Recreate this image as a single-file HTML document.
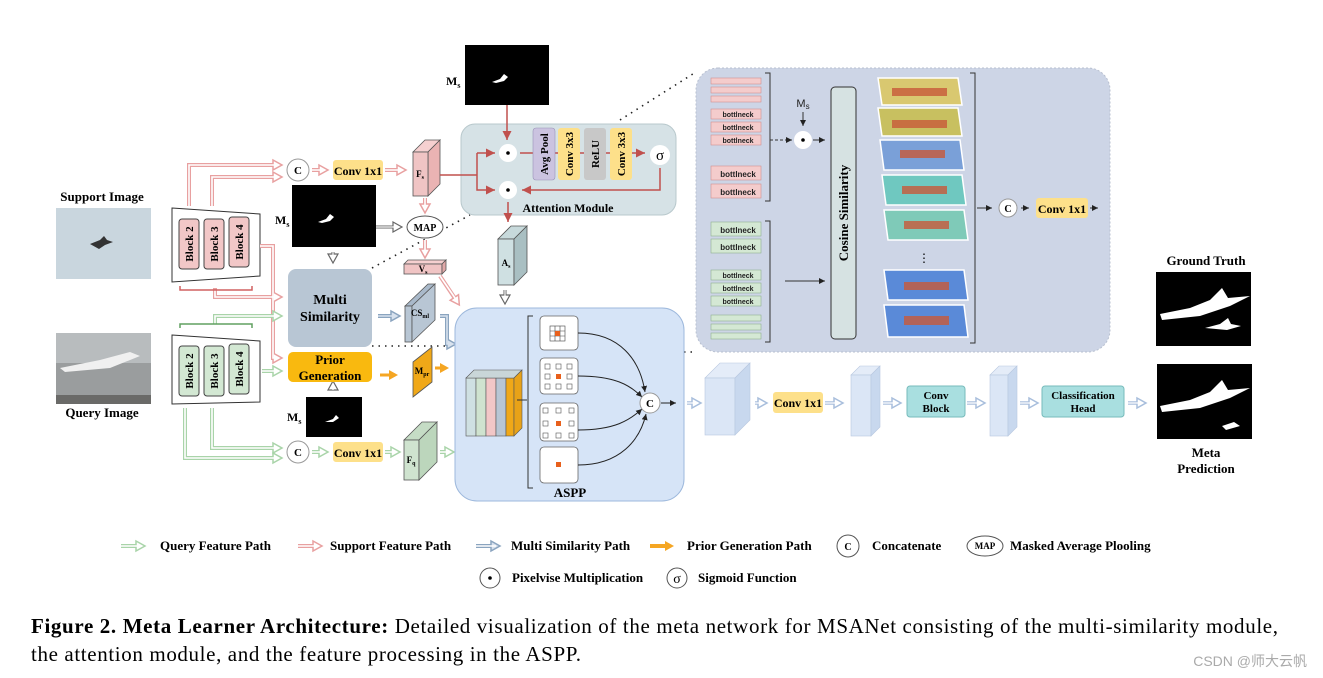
<!DOCTYPE html>
<html><head><meta charset="utf-8"><style>
html,body{margin:0;padding:0;background:#fff;}
svg{display:block;font-family:"Liberation Serif",serif;}
.b{font-weight:bold;}
</style></head><body>
<svg width="1323" height="678" viewBox="0 0 1323 678" xmlns="http://www.w3.org/2000/svg">
<defs>
<marker id="ar" markerWidth="8" markerHeight="8" refX="6" refY="3" orient="auto"><path d="M0,0 L6,3 L0,6 Z" fill="#c0504d"/></marker>
<marker id="ak" markerWidth="8" markerHeight="8" refX="6" refY="3" orient="auto"><path d="M0,0 L6,3 L0,6 Z" fill="#222"/></marker>
<marker id="hp" markerUnits="userSpaceOnUse" markerWidth="14" markerHeight="14" refX="4" refY="7" orient="auto"><path d="M1,2 L10,7 L1,12 Z" fill="#fff" stroke="#e8a0a0" stroke-width="1.5"/></marker>
<marker id="hg" markerUnits="userSpaceOnUse" markerWidth="14" markerHeight="14" refX="4" refY="7" orient="auto"><path d="M1,2 L10,7 L1,12 Z" fill="#fff" stroke="#a9d4a9" stroke-width="1.5"/></marker>
<marker id="hb" markerUnits="userSpaceOnUse" markerWidth="14" markerHeight="14" refX="4" refY="7" orient="auto"><path d="M1,2 L10,7 L1,12 Z" fill="#d8e2ee" stroke="#8aa4bf" stroke-width="1.5"/></marker>
<marker id="hl" markerUnits="userSpaceOnUse" markerWidth="14" markerHeight="14" refX="4" refY="7" orient="auto"><path d="M1,2 L10,7 L1,12 Z" fill="#fff" stroke="#a8bedc" stroke-width="1.5"/></marker>
<marker id="hk" markerUnits="userSpaceOnUse" markerWidth="14" markerHeight="14" refX="4" refY="7" orient="auto"><path d="M1,2 L10,7 L1,12 Z" fill="#fff" stroke="#666" stroke-width="1.2"/></marker>
<marker id="ho" markerUnits="userSpaceOnUse" markerWidth="14" markerHeight="14" refX="4" refY="7" orient="auto"><path d="M1,2 L10,7 L1,12 Z" fill="#f5a623"/></marker>
</defs>

<rect x="696" y="68" width="414" height="284" rx="22" fill="#cdd5e6" stroke="#b8c0d0" stroke-dasharray="2,2"/>
<path d="M372,268 L470,215 M620,120 L696,72 M372,346 L455,346 M684,352 L696,352" stroke="#222" stroke-width="1.6" stroke-dasharray="1.5,5" fill="none"/>

<text x="102" y="201" font-size="13" class="b" text-anchor="middle">Support Image</text>
<rect x="56" y="208" width="95" height="71" fill="#c9d6de"/>
<path d="M90,244 l10,-4 4,-4 3,4 6,2 -8,3 -6,4z" fill="#333"/>
<rect x="56" y="333" width="95" height="71" fill="#9a9d9e"/>
<rect x="56" y="333" width="95" height="30" fill="#b8bcbe"/>
<path d="M60,368 l40,-8 30,-8 10,4 -30,12 -45,4z" fill="#f0f0f0"/>
<rect x="56" y="395" width="95" height="9" fill="#6a6a68"/>
<text x="102" y="417" font-size="13" class="b" text-anchor="middle">Query Image</text>

<polygon points="172,208 260,214 260,276 172,282" fill="#fff" stroke="#333"/>
<g fill="#f2c7c7" stroke="#444"><rect x="179" y="219" width="20" height="50" rx="3"/><rect x="204" y="219" width="20" height="50" rx="3"/><rect x="229" y="217" width="20" height="50" rx="3"/></g>
<g font-size="11" class="b" text-anchor="middle"><text transform="translate(193,244) rotate(-90)">Block 2</text><text transform="translate(218,244) rotate(-90)">Block 3</text><text transform="translate(243,242) rotate(-90)">Block 4</text></g>
<polygon points="172,335 260,341 260,402 172,404" fill="#fff" stroke="#333"/>
<g fill="#d3e8d3" stroke="#444"><rect x="179" y="346" width="20" height="50" rx="3"/><rect x="204" y="346" width="20" height="50" rx="3"/><rect x="229" y="344" width="20" height="50" rx="3"/></g>
<g font-size="11" class="b" text-anchor="middle"><text transform="translate(193,371) rotate(-90)">Block 2</text><text transform="translate(218,371) rotate(-90)">Block 3</text><text transform="translate(243,369) rotate(-90)">Block 4</text></g>

<!-- pink paths -->
<g fill="none" stroke="#e8a0a0" stroke-width="4" marker-end="url(#hp)">
<path d="M189,206 V165 H276"/><path d="M212,206 V177 H276"/><path d="M260,246 H273 V358 H276"/><path d="M215,288 V297 H276"/>
<path d="M312,170 H322"/><path d="M385,170 H400"/><path d="M425,198 V207"/><path d="M425,240 V252"/><path d="M440,276 L456,300"/>
</g>
<g fill="none" stroke="#fff" stroke-width="1.6">
<path d="M189,206 V165 H278 M212,206 V177 H278 M260,246 H273 V358 H278 M215,290 V297 H278 M312,170 H324 M385,170 H402 M425,198 V209 M425,240 V254 M440,276 L457,301"/>
</g>
<path d="M180,286 v4 h72 v-4" stroke="#d06060" stroke-width="1.5" fill="none"/>
<!-- green paths -->
<g fill="none" stroke="#a9d4a9" stroke-width="4" marker-end="url(#hg)">
<path d="M215,324 V316 H276"/><path d="M262,371 H276"/><path d="M185,408 V458 H276"/><path d="M212,408 V448 H276"/>
<path d="M312,452 H322"/><path d="M385,452 H394"/><path d="M440,452 H448"/>
</g>
<g fill="none" stroke="#fff" stroke-width="1.6">
<path d="M215,324 V316 H278 M262,371 H278 M185,408 V458 H278 M212,408 V448 H278 M312,452 H324 M385,452 H396 M440,452 H450"/>
</g>
<path d="M180,328 v-4 h72 v4" stroke="#60a060" stroke-width="1.5" fill="none"/>
<g stroke="#8aa4bf" stroke-width="4" fill="none" marker-end="url(#hb)"><path d="M378,316 H394"/><path d="M440,316 h7 v28 h3"/></g>
<path d="M378,316 H396 M440,316 h7 v28 h5" stroke="#d8e2ee" stroke-width="1.6" fill="none"/>
<g stroke="#f5a623" stroke-width="3" fill="none" marker-end="url(#ho)"><path d="M380,375 H392"/><path d="M435,368 H443"/></g>
<g stroke="#666" stroke-width="3" fill="none" marker-end="url(#hk)"><path d="M376,227 H396"/><path d="M333,252 v5"/><path d="M333,390 v-3"/><path d="M505,290 v8"/></g>
<path d="M376,227 H398 M333,252 v7 M333,390 v-5 M505,290 v10" stroke="#fff" stroke-width="1.2" fill="none"/>

<circle cx="298" cy="170" r="11" fill="#fff" stroke="#999"/><text x="298" y="174" font-size="11" class="b" text-anchor="middle">C</text>
<circle cx="298" cy="452" r="11" fill="#fff" stroke="#999"/><text x="298" y="456" font-size="11" class="b" text-anchor="middle">C</text>
<rect x="333" y="160" width="50" height="20" rx="3" fill="#fde08a"/><text x="358" y="175" font-size="12" class="b" text-anchor="middle">Conv 1x1</text>
<rect x="333" y="442" width="50" height="20" rx="3" fill="#fde08a"/><text x="358" y="457" font-size="12" class="b" text-anchor="middle">Conv 1x1</text>

<text x="275" y="224" font-size="12" class="b">M<tspan font-size="8" dy="3">s</tspan></text>
<rect x="292" y="185" width="84" height="62" fill="#000"/><path d="M318,222 l8,-3 4,-5 4,3 -4,4 -8,2z" fill="#fff"/>
<text x="287" y="421" font-size="12" class="b">M<tspan font-size="8" dy="3">s</tspan></text>
<rect x="306" y="397" width="56" height="40" fill="#000"/><path d="M325,422 l8,-3 3,-4 3,3 -6,4z" fill="#fff"/>
<text x="446" y="85" font-size="12" class="b">M<tspan font-size="8" dy="3">s</tspan></text>
<rect x="465" y="45" width="84" height="60" fill="#000"/><path d="M492,82 l8,-3 4,-5 4,3 -4,4 -8,2z" fill="#fff"/>

<ellipse cx="425" cy="227" rx="18" ry="11" fill="#fff" stroke="#555"/><text x="425" y="231" font-size="10" class="b" text-anchor="middle">MAP</text>

<rect x="288" y="269" width="84" height="78" rx="8" fill="#b8c6d4"/>
<text x="330" y="304" font-size="14" class="b" text-anchor="middle">Multi</text><text x="330" y="321" font-size="14" class="b" text-anchor="middle">Similarity</text>
<rect x="288" y="352" width="84" height="30" rx="5" fill="#f9b90f"/>
<text x="330" y="364" font-size="13" class="b" text-anchor="middle">Prior</text><text x="330" y="380" font-size="13" class="b" text-anchor="middle">Generation</text>

<g stroke="#555" stroke-width="0.8">
<polygon points="413,152 425,140 440,140 428,152" fill="#f6d0d0"/><polygon points="428,152 440,140 440,184 428,196" fill="#eab3b3"/><rect x="413" y="152" width="15" height="44" fill="#f0c4c4"/>
<polygon points="404,264 408,260 446,260 442,264" fill="#f6d0d0"/><rect x="404" y="264" width="38" height="10" fill="#f0c4c4"/><polygon points="442,264 446,260 446,270 442,274" fill="#e0a8a8"/>
<polygon points="405,306 428,284 435,284 412,306" fill="#a9b9ca"/><rect x="405" y="306" width="7" height="36" fill="#b8c6d4"/><polygon points="412,306 435,284 435,320 412,342" fill="#b8c6d4"/>
<polygon points="413,362 432,347 432,382 413,397" fill="#f0a818"/>
<polygon points="404,440 422,422 437,422 419,440" fill="#c5dcc5"/><rect x="404" y="440" width="15" height="40" fill="#cfe3cf"/><polygon points="419,440 437,422 437,462 419,480" fill="#bcd6bc"/>
<polygon points="498,239 511,226 527,226 514,239" fill="#c7d9db"/><rect x="498" y="239" width="16" height="46" fill="#cfe0e2"/><polygon points="514,239 527,226 527,272 514,285" fill="#a9bfc2"/>
</g>
<g font-size="9" class="b" text-anchor="middle">
<text x="420" y="177">F<tspan font-size="6" dy="2">s</tspan></text>
<text x="423" y="272">V<tspan font-size="6" dy="2">s</tspan></text>
<text x="420" y="316">CS<tspan font-size="6" dy="2">ml</tspan></text>
<text x="422" y="374">M<tspan font-size="6" dy="2">pr</tspan></text>
<text x="411" y="463">F<tspan font-size="6" dy="2">q</tspan></text>
<text x="506" y="266">A<tspan font-size="6" dy="2">s</tspan></text>
</g>

<rect x="461" y="124" width="215" height="91" rx="14" fill="#d6e2e6" stroke="#b8c8cc"/>
<g stroke="#c0504d" stroke-width="1.5" fill="none">
<path d="M440,175 H477 M477,153 V190 H495" marker-end="url(#ar)"/>
<path d="M477,153 H495" marker-end="url(#ar)"/>
<path d="M507,105 V140" marker-end="url(#ar)"/>
<path d="M520,153 H645" marker-end="url(#ar)"/>
<path d="M660,168 V190 H522" marker-end="url(#ar)"/>
<path d="M508,202 V222" marker-end="url(#ar)"/>
</g>
<rect x="533" y="128" width="22" height="52" rx="3" fill="#cbc3e0" stroke="#9a92b8" stroke-width="0.6"/>
<rect x="558" y="128" width="22" height="52" rx="3" fill="#fde08a"/>
<rect x="584" y="128" width="22" height="52" rx="3" fill="#c8c8c8"/>
<rect x="610" y="128" width="22" height="52" rx="3" fill="#fde08a"/>
<g font-size="11" class="b" text-anchor="middle">
<text transform="translate(548,154) rotate(-90)">Avg Pool</text>
<text transform="translate(573,154) rotate(-90)">Conv 3x3</text>
<text transform="translate(599,154) rotate(-90)">ReLU</text>
<text transform="translate(625,154) rotate(-90)">Conv 3x3</text>
</g>
<circle cx="508" cy="153" r="9" fill="#fff"/><circle cx="508" cy="153" r="1.8" fill="#000"/>
<circle cx="508" cy="190" r="9" fill="#fff"/><circle cx="508" cy="190" r="1.8" fill="#000"/>
<circle cx="660" cy="155" r="10" fill="#fff"/><text x="660" y="160" font-size="15" text-anchor="middle">σ</text>
<text x="568" y="212" font-size="12" class="b" text-anchor="middle">Attention Module</text>

<rect x="455" y="308" width="229" height="193" rx="22" fill="#d6e4f7" stroke="#9db8dc"/>
<g stroke="#555" stroke-width="0.6">
<rect x="466" y="378" width="10" height="58" fill="#cfe0e2"/><rect x="476" y="378" width="10" height="58" fill="#cfe3cf"/><rect x="486" y="378" width="10" height="58" fill="#f2c7c7"/><rect x="496" y="378" width="10" height="58" fill="#b8c6d4"/><rect x="506" y="378" width="8" height="58" fill="#f0a818"/>
<polygon points="466,378 474,370 522,370 514,378" fill="#c9d6d8"/><polygon points="514,378 522,370 522,428 514,436" fill="#e8a218"/>
</g>
<path d="M517,400 h10 M533,316 h-5 v172 h5" stroke="#333" fill="none"/>
<g fill="#fff" stroke="#666" stroke-width="0.8">
<rect x="540" y="316" width="38" height="34" rx="4"/><rect x="540" y="358" width="38" height="36" rx="4"/><rect x="540" y="403" width="38" height="38" rx="4"/><rect x="540" y="447" width="38" height="36" rx="4"/>
</g>
<g stroke="#444" stroke-width="0.6" fill="none"><rect x="550" y="326" width="15" height="15"/><path d="M555,326v15M560,326v15M550,331h15M550,336h15"/></g>
<rect x="555" y="331" width="5" height="5" fill="#e8601c"/>
<g fill="#fff" stroke="#555" stroke-width="0.6">
<rect x="545" y="364" width="5" height="5"/><rect x="556" y="364" width="5" height="5"/><rect x="567" y="364" width="5" height="5"/><rect x="545" y="374" width="5" height="5"/><rect x="567" y="374" width="5" height="5"/><rect x="545" y="384" width="5" height="5"/><rect x="556" y="384" width="5" height="5"/><rect x="567" y="384" width="5" height="5"/>
<rect x="543" y="408" width="5" height="5"/><rect x="556" y="408" width="5" height="5"/><rect x="569" y="408" width="5" height="5"/><rect x="543" y="421" width="5" height="5"/><rect x="569" y="421" width="5" height="5"/><rect x="543" y="433" width="5" height="5"/><rect x="556" y="433" width="5" height="5"/><rect x="569" y="433" width="5" height="5"/>
</g>
<g fill="#e8601c"><rect x="556" y="374" width="5" height="5"/><rect x="556" y="421" width="5" height="5"/><rect x="556" y="462" width="5" height="5"/></g>
<g stroke="#222" stroke-width="1" fill="none">
<path d="M578,333 C620,333 640,360 645,392" marker-end="url(#ak)"/>
<path d="M578,376 C615,376 630,385 642,397" marker-end="url(#ak)"/>
<path d="M578,430 C615,430 630,420 642,409" marker-end="url(#ak)"/>
<path d="M578,465 C620,465 640,440 646,414" marker-end="url(#ak)"/>
<path d="M661,403 H676" marker-end="url(#ak)"/>
</g>
<circle cx="650" cy="403" r="10" fill="#fff" stroke="#999"/><text x="650" y="407" font-size="11" class="b" text-anchor="middle">C</text>
<text x="570" y="497" font-size="13" class="b" text-anchor="middle">ASPP</text>

<g stroke="#d09090" stroke-width="0.6" fill="#f4cccc">
<rect x="711" y="78" width="50" height="6"/><rect x="711" y="87" width="50" height="6"/><rect x="711" y="96" width="50" height="6"/>
<rect x="711" y="109" width="50" height="10"/><rect x="711" y="122" width="50" height="10"/><rect x="711" y="135" width="50" height="10"/>
<rect x="711" y="166" width="50" height="14"/><rect x="711" y="184" width="50" height="14"/>
</g>
<g stroke="#90b090" stroke-width="0.6" fill="#d4e8d4">
<rect x="711" y="222" width="50" height="14"/><rect x="711" y="239" width="50" height="14"/>
<rect x="711" y="270" width="50" height="10"/><rect x="711" y="283" width="50" height="10"/><rect x="711" y="296" width="50" height="10"/>
<rect x="711" y="315" width="50" height="6"/><rect x="711" y="324" width="50" height="6"/><rect x="711" y="333" width="50" height="6"/>
</g>
<g font-family="Liberation Sans, sans-serif" font-weight="bold" text-anchor="middle" fill="#222">
<text x="738" y="117" font-size="7">bottlneck</text><text x="738" y="130" font-size="7">bottlneck</text><text x="738" y="143" font-size="7">bottlneck</text>
<text x="738" y="177" font-size="8">bottlneck</text><text x="738" y="195" font-size="8">bottlneck</text>
<text x="738" y="233" font-size="8">bottlneck</text><text x="738" y="250" font-size="8">bottlneck</text>
<text x="738" y="278" font-size="7">bottlneck</text><text x="738" y="291" font-size="7">bottlneck</text><text x="738" y="304" font-size="7">bottlneck</text>
<text x="803" y="107" font-size="11" font-weight="normal">M<tspan font-size="8" dy="2">s</tspan></text>
</g>
<g stroke="#333" fill="none" stroke-width="1">
<path d="M765,73 h5 v128 h-5 M765,221 h5 v121 h-5 M970,73 h5 v270 h-5"/>
<path d="M770,140 h22" stroke-dasharray="3,2" marker-end="url(#ak)"/>
<path d="M803,112 v14" marker-end="url(#ak)"/>
<path d="M813,140 h12" marker-end="url(#ak)"/>
<path d="M785,281 h40" marker-end="url(#ak)"/>
<path d="M977,208 h15" marker-end="url(#ak)"/>
<path d="M1021,208 h8" marker-end="url(#ak)"/>
<path d="M1090,208 h8" marker-end="url(#ak)"/>
</g>
<circle cx="803" cy="140" r="9" fill="#fff"/><circle cx="803" cy="140" r="1.8" fill="#000"/>
<rect x="831" y="87" width="25" height="252" rx="4" fill="#d6e2e2" stroke="#333"/>
<text transform="translate(848,213) rotate(-90)" font-size="13" class="b" text-anchor="middle">Cosine Similarity</text>
<g stroke="#fff" stroke-width="1.5">
<polygon points="878,78 958,78 962,105 882,105" fill="#d9c870"/>
<polygon points="878,108 958,108 962,136 882,136" fill="#c8c060"/>
<polygon points="880,140 960,140 964,170 884,170" fill="#7aa0d8"/>
<polygon points="882,175 962,175 966,205 886,205" fill="#6fc8c0"/>
<polygon points="884,210 964,210 968,240 888,240" fill="#7fcab8"/>
<polygon points="884,270 964,270 968,300 888,300" fill="#5a8ad8"/>
<polygon points="884,305 964,305 968,337 888,337" fill="#5a8ad8"/>
</g>
<g fill="#c85a3a" opacity="0.8"><rect x="892" y="88" width="55" height="8"/><rect x="892" y="120" width="55" height="8"/><rect x="900" y="150" width="45" height="8"/><rect x="902" y="186" width="45" height="8"/><rect x="904" y="221" width="45" height="8"/><rect x="904" y="282" width="45" height="8"/><rect x="904" y="316" width="45" height="9"/></g>
<text x="924" y="262" font-size="12" text-anchor="middle">⋮</text>
<circle cx="1008" cy="208" r="9" fill="#fff" stroke="#999"/><text x="1008" y="212" font-size="10" class="b" text-anchor="middle">C</text>
<rect x="1036" y="198" width="52" height="20" rx="3" fill="#fde08a"/><text x="1062" y="213" font-size="12" class="b" text-anchor="middle">Conv 1x1</text>

<g stroke="#a8bedc" stroke-width="3.5" fill="none" marker-end="url(#hl)"><path d="M687,403 h8"/><path d="M755,403 h6"/><path d="M825,403 h12"/><path d="M883,403 h12"/><path d="M967,403 h12"/><path d="M1020,403 h12"/><path d="M1128,403 h12"/></g>
<g stroke="#fff" stroke-width="1.2" fill="none"><path d="M687,403 h10 M755,403 h8 M825,403 h14 M883,403 h14 M967,403 h14 M1020,403 h14 M1128,403 h14"/></g>
<g stroke="#b8c8e0" stroke-width="0.6">
<polygon points="705,378 720,363 750,363 735,378" fill="#e4ecf8"/><rect x="705" y="378" width="30" height="57" fill="#dbe6f6"/><polygon points="735,378 750,363 750,420 735,435" fill="#c8d8ee"/>
<polygon points="851,375 860,366 880,366 871,375" fill="#e4ecf8"/><rect x="851" y="375" width="20" height="61" fill="#dbe6f6"/><polygon points="871,375 880,366 880,427 871,436" fill="#c8d8ee"/>
<polygon points="990,375 999,366 1017,366 1008,375" fill="#e4ecf8"/><rect x="990" y="375" width="18" height="61" fill="#dbe6f6"/><polygon points="1008,375 1017,366 1017,427 1008,436" fill="#c8d8ee"/>
</g>
<rect x="773" y="392" width="50" height="21" rx="3" fill="#fde08a"/><text x="798" y="407" font-size="12" class="b" text-anchor="middle">Conv 1x1</text>
<rect x="907" y="386" width="58" height="31" rx="3" fill="#a9dfe0" stroke="#7bb"/><text x="936" y="399" font-size="11" class="b" text-anchor="middle">Conv</text><text x="936" y="412" font-size="11" class="b" text-anchor="middle">Block</text>
<rect x="1042" y="386" width="82" height="31" rx="3" fill="#a9dfe0" stroke="#7bb"/><text x="1083" y="399" font-size="11" class="b" text-anchor="middle">Classification</text><text x="1083" y="412" font-size="11" class="b" text-anchor="middle">Head</text>

<text x="1206" y="265" font-size="13" class="b" text-anchor="middle">Ground Truth</text>
<rect x="1156" y="272" width="95" height="74" fill="#000"/>
<path d="M1160,314 l30,-6 20,-8 12,-12 6,10 22,-2 -20,10 -30,10 -38,4z M1205,328 l15,-4 8,-6 3,6 10,2 -14,4z" fill="#fff"/>
<rect x="1157" y="364" width="95" height="75" fill="#000"/>
<path d="M1160,406 l30,-6 20,-8 12,-12 6,10 22,-2 -20,10 -30,10 -38,4z M1222,426 l12,-4 6,4 -14,4z" fill="#fff"/>
<text x="1206" y="457" font-size="13" class="b" text-anchor="middle">Meta</text>
<text x="1206" y="473" font-size="13" class="b" text-anchor="middle">Prediction</text>

<g stroke-width="4" fill="none">
<path d="M121,546 h18" stroke="#a9d4a9" marker-end="url(#hg)"/><path d="M298,546 h18" stroke="#e8a0a0" marker-end="url(#hp)"/><path d="M476,546 h18" stroke="#8aa4bf" marker-end="url(#hb)"/><path d="M650,546 h18" stroke="#f5a623" marker-end="url(#ho)"/>
</g>
<g stroke="#fff" stroke-width="1.5"><path d="M121,546 h20 M298,546 h20 M476,546 h20"/></g>
<g font-size="13" class="b">
<text x="160" y="550">Query Feature Path</text>
<text x="330" y="550">Support Feature Path</text>
<text x="511" y="550">Multi Similarity Path</text>
<text x="687" y="550">Prior Generation Path</text>
<text x="872" y="550">Concatenate</text>
<text x="1010" y="550">Masked Average Plooling</text>
<text x="512" y="582">Pixelvise Multiplication</text>
<text x="698" y="582">Sigmoid Function</text>
</g>
<circle cx="848" cy="546" r="11" fill="#fff" stroke="#555"/><text x="848" y="550" font-size="10" class="b" text-anchor="middle">C</text>
<ellipse cx="985" cy="546" rx="18" ry="10" fill="#fff" stroke="#555"/><text x="985" y="549" font-size="9" class="b" text-anchor="middle">MAP</text>
<circle cx="490" cy="578" r="10" fill="#fff" stroke="#555"/><circle cx="490" cy="578" r="1.8" fill="#000"/>
<circle cx="677" cy="578" r="10" fill="#fff" stroke="#555"/><text x="677" y="583" font-size="14" text-anchor="middle">σ</text>

<text x="31" y="633" font-size="21" textLength="1247" lengthAdjust="spacing"><tspan font-weight="bold">Figure 2. Meta Learner Architecture:</tspan>  Detailed visualization of the meta network for MSANet consisting of the multi-similarity module,</text>
<text x="31" y="661" font-size="21" textLength="550" lengthAdjust="spacing">the attention module, and the feature processing in the ASPP.</text>
<text x="1307" y="666" font-size="14" fill="#aaa" text-anchor="end" font-family="Liberation Sans, Noto Sans CJK SC, sans-serif">CSDN @师大云帆</text>
</svg>
</body></html>
